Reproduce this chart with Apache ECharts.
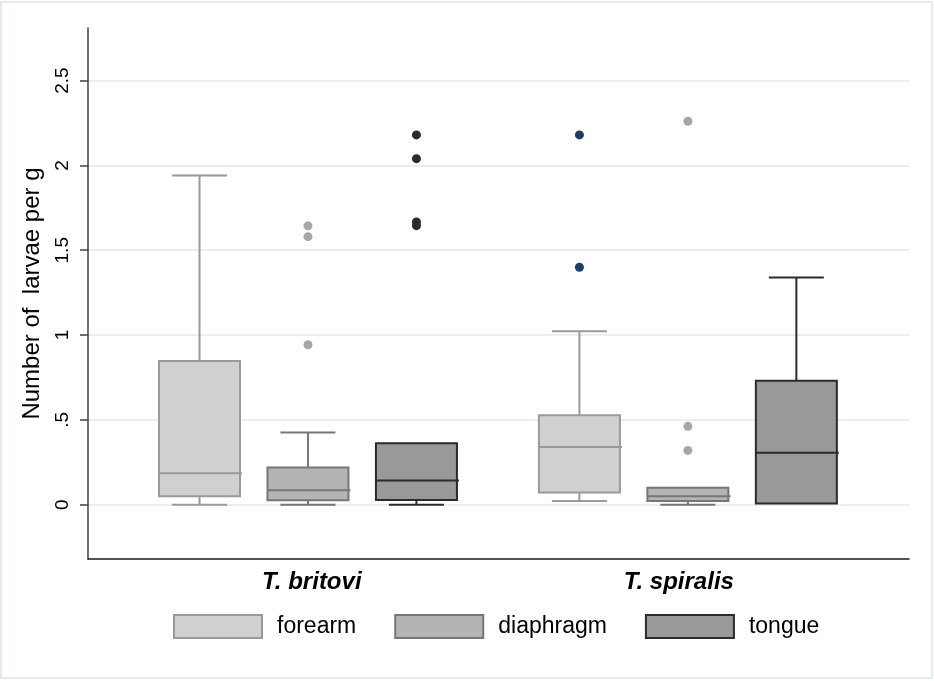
<!DOCTYPE html>
<html>
<head>
<meta charset="utf-8">
<script src="https://cdn.jsdelivr.net/npm/echarts@6/dist/echarts.min.js"></script>
<style>
    html, body { margin: 0; padding: 0; background: #fff; }
    #chart { width: 934px; height: 681px; }
</style>
</head>
<body>
<div id="chart"></div>
<script>
var groups = ['T. britovi', 'T. spiralis'];
var muscles = ['forearm', 'diaphragm', 'tongue'];

// [lower whisker, Q1, median, Q3, upper whisker], one row per group
var forearmBox = [[0, 0.05, 0.185, 0.847, 1.94], [0.022, 0.072, 0.34, 0.527, 1.022]];
var diaphragmBox = [[0, 0.027, 0.085, 0.22, 0.425], [0, 0.022, 0.05, 0.10, 0.10]];
var tongueBox = [[0, 0.028, 0.142, 0.362, 0.362], [0.007, 0.007, 0.307, 0.73, 1.34]];

// outside values, one list per group
var forearmOut = [[], [2.18, 1.40]];
var diaphragmOut = [[1.644, 1.58, 0.943], [2.26, 0.462, 0.32]];
var tongueOut = [[2.18, 2.04, 1.667, 1.645], []];

var yTicks = [0, 0.5, 1, 1.5, 2, 2.5];
var yTickLabels = ['0', '.5', '1', '1.5', '2', '2.5'];

var FONT = 'Liberation Sans, Arial, sans-serif';
var BOX_W = 81, CAP_W = 55, SHIFT = 0.2855;

var styles = {
    forearm: {fill: '#d0d0d0', stroke: '#9a9a9a', offset: -SHIFT, dots: ['#a6a6a6', '#1b3f6a']},
    diaphragm: {fill: '#b4b4b4', stroke: '#767676', offset: 0, dots: ['#a6a6a6', '#a6a6a6']},
    tongue: {fill: '#999999', stroke: '#2b2b2b', offset: SHIFT, dots: ['#2b2b2b', '#2b2b2b']}
};
var boxes = {forearm: forearmBox, diaphragm: diaphragmBox, tongue: tongueBox};
var outs = {forearm: forearmOut, diaphragm: diaphragmOut, tongue: tongueOut};

function makeBoxRenderer(st) {
    return function (params, api) {
        var x = api.value(0) + st.offset;
        var lo = api.coord([x, api.value(1)]);
        var q1 = api.coord([x, api.value(2)]);
        var med = api.coord([x, api.value(3)]);
        var q3 = api.coord([x, api.value(4)]);
        var hi = api.coord([x, api.value(5)]);
        var cx = lo[0];
        var line = {stroke: st.stroke, lineWidth: 2};
        var kids = [];
        if (hi[1] < q3[1] - 0.5) {
            kids.push({type: 'line', shape: {x1: cx, y1: q3[1], x2: cx, y2: hi[1]}, style: line});
            kids.push({type: 'line', shape: {x1: cx - CAP_W / 2, y1: hi[1], x2: cx + CAP_W / 2, y2: hi[1]}, style: line});
        }
        if (lo[1] > q1[1] + 0.5) {
            kids.push({type: 'line', shape: {x1: cx, y1: q1[1], x2: cx, y2: lo[1]}, style: line});
            kids.push({type: 'line', shape: {x1: cx - CAP_W / 2, y1: lo[1], x2: cx + CAP_W / 2, y2: lo[1]}, style: line});
        }
        kids.push({
            type: 'rect',
            shape: {x: cx - BOX_W / 2, y: q3[1], width: BOX_W, height: q1[1] - q3[1]},
            style: {fill: st.fill, stroke: st.stroke, lineWidth: 2}
        });
        kids.push({type: 'line', shape: {x1: cx - BOX_W / 2, y1: med[1], x2: cx + BOX_W / 2 + 2, y2: med[1]}, style: line});
        return {type: 'group', children: kids};
    };
}

var series = [];
muscles.forEach(function (m) {
    var st = styles[m];
    series.push({
        name: m,
        type: 'custom',
        renderItem: makeBoxRenderer(st),
        itemStyle: {color: st.fill, borderColor: st.stroke},
        encode: {x: 0, y: [1, 2, 3, 4, 5]},
        data: groups.map(function (g, i) { return [i].concat(boxes[m][i]); }),
        silent: true
    });
});
muscles.forEach(function (m) {
    var st = styles[m];
    var pts = [];
    groups.forEach(function (g, i) {
        outs[m][i].forEach(function (v) {
            pts.push({value: [i + st.offset, v], itemStyle: {color: st.dots[i], opacity: 1}});
        });
    });
    series.push({
        name: m + ' outside',
        type: 'scatter',
        symbol: 'circle',
        symbolSize: 9,
        itemStyle: {opacity: 1},
        data: pts,
        silent: true
    });
});

var myChart = echarts.init(document.getElementById('chart'));
var option = {
    animation: false,
    textStyle: {fontFamily: FONT},
    graphic: [{
        type: 'rect',
        shape: {x: 1, y: 2, width: 931, height: 676},
        style: {fill: 'none', stroke: '#e6eaea', lineWidth: 2},
        silent: true,
        z: -1
    }],
    grid: {left: 88, right: 25, top: 28, bottom: 122},
    legend: {
        left: 173,
        top: 614,
        padding: 0,
        icon: 'rect',
        itemWidth: 88,
        itemHeight: 23,
        itemGap: 38,
        selectedMode: false,
        textStyle: {fontSize: 23, color: '#000', fontFamily: FONT, padding: [0, 0, 0, 10]},
        data: muscles.map(function (m) {
            return {name: m, itemStyle: {color: styles[m].fill, borderColor: styles[m].stroke, borderWidth: 2}};
        })
    },
    xAxis: {
        type: 'value',
        min: -0.579,
        max: 1.582,
        axisLine: {onZero: false, lineStyle: {color: '#1a1a1a', width: 1.5}},
        axisTick: {show: false},
        splitLine: {show: false},
        axisLabel: {
            customValues: [0.01, 0.976],
            formatter: function (v) { return groups[Math.round(v)]; },
            fontSize: 24,
            fontWeight: 'bold',
            fontStyle: 'italic',
            color: '#000',
            margin: 11
        }
    },
    yAxis: {
        type: 'value',
        min: -0.32,
        max: 2.81,
        name: 'Number of  larvae per g',
        nameLocation: 'middle',
        nameGap: 44,
        nameTextStyle: {fontSize: 24, color: '#000', fontFamily: FONT},
        axisLine: {show: true, onZero: false, lineStyle: {color: '#404040', width: 1.5}},
        axisTick: {show: true, customValues: yTicks, length: 8, lineStyle: {color: '#404040', width: 1.5}},
        splitLine: {show: true, lineStyle: {color: '#e2eaea', width: 1.5}},
        axisLabel: {
            customValues: yTicks,
            rotate: 90,
            fontSize: 19,
            color: '#000',
            margin: 16,
            formatter: function (v) { return yTickLabels[yTicks.indexOf(v)]; }
        }
    },
    series: series
};
myChart.setOption(option);
</script>
</body>
</html>
